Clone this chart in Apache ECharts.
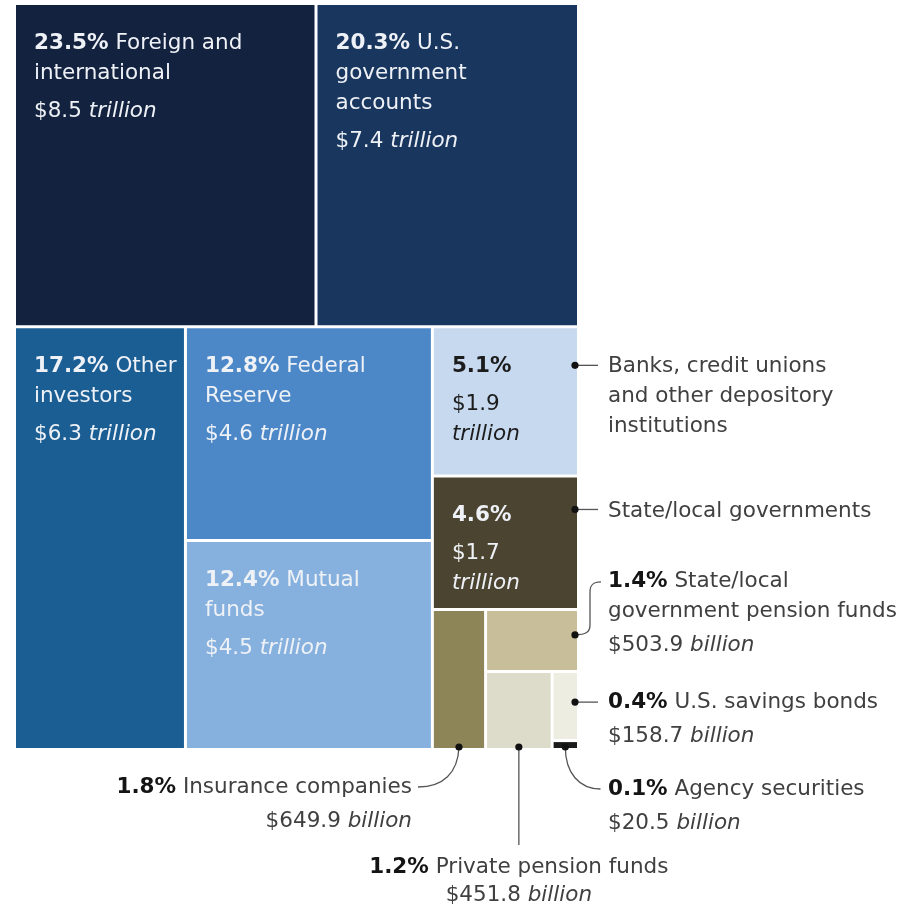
<!DOCTYPE html>
<html>
<head>
<meta charset="utf-8">
<script src="https://cdn.jsdelivr.net/npm/echarts@6/dist/echarts.min.js"></script>
<style>
  html, body { margin: 0; padding: 0; background: #ffffff; }
  #chart { width: 906px; height: 906px; }
</style>
</head>
<body>
<div id="chart"></div>
<script>
// Who holds U.S. public debt: share of total and dollar amount (billions)
const holders = [
  'Foreign and international',
  'U.S. government accounts',
  'Other investors',
  'Federal Reserve',
  'Mutual funds',
  'Banks, credit unions and other depository institutions',
  'State/local governments',
  'Insurance companies',
  'State/local government pension funds',
  'Private pension funds',
  'U.S. savings bonds',
  'Agency securities'
];
const shares = [23.5, 20.3, 17.2, 12.8, 12.4, 5.1, 4.6, 1.8, 1.4, 1.2, 0.4, 0.1];
const amountsBillion = [8500, 7400, 6300, 4600, 4500, 1900, 1700, 649.9, 503.9, 451.8, 158.7, 20.5];

const cellColors = [
  '#13223f', '#19365f', '#1a5e94', '#4c88c8', '#86b1de', '#c7d9ef',
  '#4b4431', '#8d8557', '#c8be9a', '#dddbc9', '#edede1', '#1b1b1b'
];

// Text placed inside the larger cells (name broken over lines)
const insideLines = [
  ['Foreign and', 'international'],
  ['U.S.', 'government', 'accounts'],
  ['Other', 'investors'],
  ['Federal', 'Reserve'],
  ['Mutual', 'funds'],
  [],
  []
];
// Text placed beside the smaller cells
const outsideLines = {
  5: ['Banks, credit unions', 'and other depository', 'institutions'],
  6: ['State/local governments'],
  7: ['Insurance companies'],
  8: ['State/local', 'government pension funds'],
  9: ['Private pension funds'],
  10: ['U.S. savings bonds'],
  11: ['Agency securities']
};

const FONT = 'DejaVu Sans';
const FS = 21.5;
const LIGHT = '#eef1f6';
const DARK = '#1c1c1c';

const pctText = i => shares[i].toFixed(1) + '%';
const amountParts = i => {
  const v = amountsBillion[i];
  return v >= 1000 ? ['$' + (v / 1000).toFixed(1), 'trillion'] : ['$' + v.toFixed(1), 'billion'];
};

function tokens(color) {
  return {
    pct: { fontFamily: FONT, fontSize: FS, fontWeight: 'bold', lineHeight: 30, color },
    txt: { fontFamily: FONT, fontSize: FS, lineHeight: 30, color },
    amt: { fontFamily: FONT, fontSize: FS, lineHeight: 30, color },
    it: { fontFamily: FONT, fontSize: FS, fontStyle: 'italic', lineHeight: 30, color }
  };
}
const richLight = tokens(LIGHT);
const richDark = tokens(DARK);
const labelRich = { sp: { fontSize: 4, lineHeight: 8, color: 'transparent' } };
Object.keys(richLight).forEach(k => { labelRich[k] = richLight[k]; labelRich[k + 'D'] = richDark[k]; });

function insideLabel(i, dark, narrow) {
  const s = dark ? 'D' : '';
  const lines = insideLines[i];
  const head = `{pct${s}|${pctText(i)}}` + (lines.length ? `{txt${s}| ${lines[0]}}` : '');
  const rest = lines.slice(1).map(l => `{txt${s}|${l}}`);
  const [num, unit] = amountParts(i);
  const amt = narrow
    ? [`{amt${s}|${num}}`, `{it${s}|${unit}}`]
    : [`{amt${s}|${num} }{it${s}|${unit}}`];
  return [head, ...rest, '{sp| }', ...amt].join('\n');
}

function leaf(i) {
  const item = {
    name: holders[i],
    value: amountsBillion[i],
    itemStyle: { color: cellColors[i], borderColor: '#ffffff', borderWidth: 1.5 }
  };
  if (i <= 6) {
    item.label = { show: true, formatter: insideLabel(i, i === 5, i >= 5) };
  } else {
    item.label = { show: false };
  }
  return item;
}
const group = (name, children) => ({ name, children });

// Nested grouping decides how the cells are cut
const treeData = [
  group('upper', [leaf(0), leaf(1)]),
  group('lower', [
    group('lowerLeft', [leaf(2), group('fedFunds', [leaf(3), leaf(4)])]),
    group('lowerRight', [
      leaf(5),
      leaf(6),
      group('smallHolders', [
        leaf(7),
        group('smallRight', [
          leaf(8),
          group('smallBottom', [leaf(9), group('bonds', [leaf(10), leaf(11)])])
        ])
      ])
    ])
  ])
];

const chart = echarts.init(document.getElementById('chart'), null, { renderer: 'canvas' });

chart.setOption({
  animation: false,
  series: [{
    type: 'treemap',
    left: 14.5,
    top: 3.5,
    width: 564,
    height: 746,
    sort: false,
    squareRatio: 1.027,
    roam: false,
    nodeClick: false,
    breadcrumb: { show: false },
    itemStyle: { borderWidth: 0, gapWidth: 0, borderColor: '#ffffff' },
    label: {
      show: true,
      position: 'insideTopLeft',
      distance: 0,
      padding: [23, 6, 0, 18],
      overflow: 'none',
      fontFamily: FONT,
      fontSize: FS,
      lineHeight: 30,
      color: LIGHT,
      rich: labelRich
    },
    upperLabel: { show: false },
    data: treeData
  }]
});

// Callouts for the smaller cells, anchored to the laid-out rectangles
const seriesModel = chart.getModel().getSeriesByIndex(0);
const tree = seriesModel.getData().tree;
const origin = seriesModel.layoutInfo || { x: 14.5, y: 3.5 };

function cellRect(i) {
  let node = null;
  tree.root.eachNode(n => { if (n.name === holders[i] && !(n.children && n.children.length)) node = n; });
  const own = node.getLayout();
  let x = origin.x, y = origin.y, n = node;
  while (n) {
    const l = n.getLayout();
    if (l) { x += l.x || 0; y += l.y || 0; }
    n = n.parentNode;
  }
  return { L: x, T: y, R: x + own.width, B: y + own.height, cx: x + own.width / 2 };
}

const INK = '#404040';
const noteRich = {
  pct: { fontFamily: FONT, fontSize: FS, fontWeight: 'bold', fill: '#141414', lineHeight: 30 },
  it: { fontFamily: FONT, fontSize: FS, fontStyle: 'italic', fill: INK, lineHeight: 30 },
  sp: { fontSize: 4, lineHeight: 4, fill: 'transparent' },
  last: { fontFamily: FONT, fontSize: FS, fill: INK, lineHeight: 26 },
  lastIt: { fontFamily: FONT, fontSize: FS, fontStyle: 'italic', fill: INK, lineHeight: 26 }
};

function noteText(i, tight) {
  const lines = outsideLines[i].slice();
  if (i <= 6) return lines.join('\n');
  lines[0] = `{pct|${pctText(i)}} ` + lines[0];
  const [num, unit] = amountParts(i);
  if (tight) lines.push(`{last|${num} }{lastIt|${unit}}`);
  else lines.push('{sp| }', `${num} {it|${unit}}`);
  return lines.join('\n');
}

const elements = [];
const dot = (x, y) => elements.push({ type: 'circle', z: 20, shape: { cx: x, cy: y, r: 3.6 }, style: { fill: '#111111' } });
const seg = (x1, y1, x2, y2) => elements.push({ type: 'line', z: 19, shape: { x1, y1, x2, y2 }, style: { stroke: '#555555', lineWidth: 1.3 } });
const curve = (x1, y1, cpx1, cpy1, cpx2, cpy2, x2, y2) => elements.push({
  type: 'bezierCurve', z: 19,
  shape: { x1, y1, cpx1, cpy1, cpx2, cpy2, x2, y2 },
  style: { stroke: '#555555', lineWidth: 1.3, fill: null }
});
const note = (x, yTop, text, align) => elements.push({
  type: 'text', z: 20, x, y: yTop,
  style: {
    text, fill: INK, fontFamily: FONT, fontSize: FS, lineHeight: 30,
    align, verticalAlign: 'top', textAlign: align, textVerticalAlign: 'top', rich: noteRich
  }
});

// Banks
let c = cellRect(5);
dot(c.R - 3.5, c.T + 38.5); seg(c.R - 3.5, c.T + 38.5, c.R + 19.5, c.T + 38.5);
note(c.R + 29.5, c.T + 25, noteText(5), 'left');
// State/local governments
c = cellRect(6);
dot(c.R - 3.5, c.T + 33.5); seg(c.R - 3.5, c.T + 33.5, c.R + 19.5, c.T + 33.5);
note(c.R + 29.5, c.T + 20, noteText(6), 'left');
// State/local pension funds
c = cellRect(8);
{
  const y0 = c.T + 25.5, y1 = c.T - 27.5, xk = c.R + 11.5;
  dot(c.R - 3.5, y0);
  curve(c.R - 3.5, y0, xk - 4, y0, xk, y0 - 3, xk, y0 - 10);
  seg(xk, y0 - 10, xk, y1 + 10);
  curve(xk, y1 + 10, xk, y1 + 3, xk + 3, y1, xk + 11, y1);
  note(c.R + 29.5, y1 - 15, noteText(8), 'left');
}
// Savings bonds
c = cellRect(10);
dot(c.R - 3.5, c.T + 30.5); seg(c.R - 3.5, c.T + 30.5, c.R + 19.5, c.T + 30.5);
note(c.R + 29.5, c.T + 15.5, noteText(10), 'left');
// Agency securities
c = cellRect(11);
{
  const x0 = c.cx, y0 = c.B - 2.5, x1 = c.R + 22, y1 = c.B + 39.5;
  dot(x0, y0);
  curve(x0, y0, x0, y0 + 26, x0 + 14, y1, x1, y1);
  note(c.R + 29.5, y1 - 15, noteText(11), 'left');
}
// Insurance companies
c = cellRect(7);
{
  const x0 = c.cx, y0 = c.B - 2.5, x1 = c.cx - 41, y1 = c.B + 37.5;
  dot(x0, y0);
  curve(x0, y0, x0 - 1, y0 + 26, x0 - 16, y1, x1, y1);
  note(c.cx - 47, y1 - 15, noteText(7), 'right');
}
// Private pension funds
c = cellRect(9);
dot(c.cx, c.B - 2.5); seg(c.cx, c.B - 2.5, c.cx, c.B + 95.5);
note(c.cx, c.B + 103, noteText(9, true), 'center');

chart.setOption({ graphic: { elements } });
</script>
</body>
</html>
